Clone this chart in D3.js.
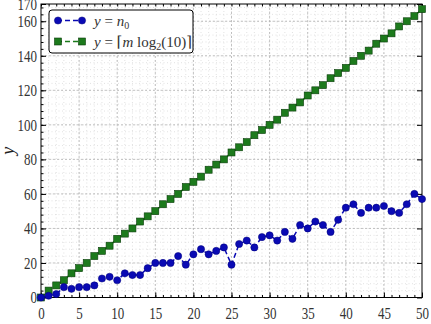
<!DOCTYPE html>
<html>
<head>
<meta charset="utf-8">
<title>n0 vs ceil(m log2 10)</title>
<script src="https://d3js.org/d3.v7.min.js"></script>
<style>
  body { margin: 0; background: #fff; }
  svg { display: block; font-family: "Liberation Serif", "DejaVu Serif", serif; }
</style>
</head>
<body>
<svg id="chart" width="431" height="324"></svg>
<script>
// m values 0..50
const mValues = d3.range(0, 51);
// y = n0
const n0 = [0, 1, 2, 6, 5, 6, 6, 7, 11, 12, 10, 14, 13, 13, 17, 20, 20, 20, 24, 19,
            25, 28, 25, 27, 29, 19, 31, 33, 29, 35, 36, 33, 38, 34, 42, 40, 44, 42, 38, 45,
            52, 54, 49, 52, 52, 53, 50, 49, 54, 60, 57];
// y = ceil(m log2(10))
const ceilBits = [0, 4, 7, 10, 14, 17, 20, 24, 27, 30, 34, 37, 40, 44, 47, 50, 54, 57, 60, 64,
                  67, 70, 74, 77, 80, 84, 87, 90, 94, 97, 100, 103, 107, 110, 113, 117, 120, 123, 127, 130,
                  133, 137, 140, 143, 147, 150, 153, 157, 160, 163, 167];
const xTicks = [0, 5, 10, 15, 20, 25, 30, 35, 40, 45, 50];
const yTicks = [0, 20, 40, 60, 80, 100, 120, 140, 160, 170];

const serif = "'Liberation Serif', 'DejaVu Serif', serif";
const svg = d3.select("#chart");
const pL = 41, pR = 422, pT = 4, pB = 297.5;

const x = d3.scaleLinear().domain([0, 50]).range([pL, pR]);
const y = d3.scaleLinear().domain([0, 170]).range([pB, pT]);

const blue = "#0a0ab4", green = "#1c7a1c";

// minor grid
const grid = svg.append("g");
grid.selectAll(".vx").data(d3.range(1, 50)).enter().append("line")
  .attr("x1", d => x(d)).attr("x2", d => x(d))
  .attr("y1", pT).attr("y2", pB)
  .attr("stroke", "#d6d6d6").attr("stroke-width", 0.7).attr("stroke-dasharray", "1,2.5");
grid.selectAll(".hy").data(d3.range(4, 170, 4)).enter().append("line")
  .attr("x1", pL).attr("x2", pR)
  .attr("y1", d => y(d)).attr("y2", d => y(d))
  .attr("stroke", "#d6d6d6").attr("stroke-width", 0.7).attr("stroke-dasharray", "1,2.5");
// major grid
grid.selectAll(".mx").data(xTicks.slice(1, -1)).enter().append("line")
  .attr("x1", d => x(d)).attr("x2", d => x(d))
  .attr("y1", pT).attr("y2", pB)
  .attr("stroke", "#b4b4b4").attr("stroke-width", 0.8).attr("stroke-dasharray", "2,2");
grid.selectAll(".my").data(yTicks.slice(1, -1)).enter().append("line")
  .attr("x1", pL).attr("x2", pR)
  .attr("y1", d => y(d)).attr("y2", d => y(d))
  .attr("stroke", "#b4b4b4").attr("stroke-width", 0.8).attr("stroke-dasharray", "2,2");

// axes with inward ticks
const xAxis = svg.append("g").attr("transform", `translate(0,${pB})`)
  .call(d3.axisBottom(x).tickValues(xTicks).tickSize(-5).tickPadding(10));
const yAxis = svg.append("g").attr("transform", `translate(${pL},0)`)
  .call(d3.axisLeft(y).tickValues(yTicks).tickSize(-5).tickPadding(4));
[xAxis, yAxis].forEach(a => {
  a.attr("font-family", serif).attr("font-size", 16.5);
  a.select(".domain").remove();
  a.selectAll(".tick line").attr("stroke", "#000");
  // narrow, tall digits as in the reference
  a.selectAll(".tick text").attr("fill", "#333")
    .attr("textLength", d => String(d).length * 6.5)
    .attr("lengthAdjust", "spacingAndGlyphs");
});
// minor ticks
svg.append("g").attr("transform", `translate(0,${pB})`)
  .call(d3.axisBottom(x).tickValues(d3.range(0, 51)).tickSize(-2.5).tickFormat(""))
  .select(".domain").remove();
svg.append("g").attr("transform", `translate(0,${pT})`)
  .call(d3.axisTop(x).tickValues(d3.range(0, 51)).tickSize(-2.5).tickFormat(""))
  .select(".domain").remove();
svg.append("g").attr("transform", `translate(${pL},0)`)
  .call(d3.axisLeft(y).tickValues(d3.range(0, 171, 4)).tickSize(-2.5).tickFormat(""))
  .select(".domain").remove();
svg.append("g").attr("transform", `translate(${pR},0)`)
  .call(d3.axisRight(y).tickValues(yTicks).tickSize(-5).tickFormat(""))
  .select(".domain").remove();

// frame
svg.append("rect").attr("x", pL).attr("y", pT)
  .attr("width", pR - pL).attr("height", pB - pT)
  .attr("fill", "none").attr("stroke", "#000").attr("stroke-width", 1);

// y label
svg.append("text").attr("transform", `translate(14,${(pT + pB) / 2}) rotate(-90)`)
  .attr("text-anchor", "middle").attr("font-style", "italic").attr("font-size", 18)
  .attr("fill", "#222").text("y");

const line = d3.line().x((d, i) => x(mValues[i])).y(d => y(d));
const plot = svg.append("g");

plot.append("path").datum(ceilBits).attr("d", line)
  .attr("fill", "none").attr("stroke", green).attr("stroke-width", 1.5).attr("stroke-dasharray", "5,3");
plot.selectAll(".sq").data(ceilBits).enter().append("rect")
  .attr("x", (d, i) => x(mValues[i]) - 3.5).attr("y", d => y(d) - 3.5)
  .attr("width", 7).attr("height", 7)
  .attr("fill", green).attr("stroke", "#0b3d0b").attr("stroke-width", 0.6);

plot.append("path").datum(n0).attr("d", line)
  .attr("fill", "none").attr("stroke", blue).attr("stroke-width", 1.5).attr("stroke-dasharray", "5,3");
plot.selectAll(".dot").data(n0).enter().append("circle")
  .attr("cx", (d, i) => x(mValues[i])).attr("cy", d => y(d)).attr("r", 3.6)
  .attr("fill", blue).attr("stroke", "#00007a").attr("stroke-width", 0.5);

// legend
const lg = svg.append("g").attr("transform", "translate(49,10)");
lg.append("rect").attr("width", 144).attr("height", 43).attr("rx", 3)
  .attr("fill", "#fff").attr("stroke", "#000").attr("stroke-width", 1);
const items = [
  { color: blue, shape: "circle", edge: "#00007a" },
  { color: green, shape: "square", edge: "#0b3d0b" }
];
items.forEach((it, i) => {
  const cy = 10.5 + i * 21;
  lg.append("line").attr("x1", 8).attr("x2", 34).attr("y1", cy).attr("y2", cy)
    .attr("stroke", it.color).attr("stroke-width", 1.5).attr("stroke-dasharray", "5,3");
  [9, 33].forEach(cx => {
    if (it.shape === "circle") {
      lg.append("circle").attr("cx", cx).attr("cy", cy).attr("r", 3.6)
        .attr("fill", it.color).attr("stroke", it.edge).attr("stroke-width", 0.5);
    } else {
      lg.append("rect").attr("x", cx - 3.5).attr("y", cy - 3.5).attr("width", 7).attr("height", 7)
        .attr("fill", it.color).attr("stroke", it.edge).attr("stroke-width", 0.6);
    }
  });
});
const t1 = lg.append("text").attr("x", 45).attr("y", 15.5).attr("font-size", 15).attr("fill", "#333");
t1.append("tspan").attr("font-style", "italic").text("y");
t1.append("tspan").text(" = ");
t1.append("tspan").attr("font-style", "italic").text("n");
t1.append("tspan").attr("font-size", 10).attr("dy", 3).text("0");
const t2 = lg.append("text").attr("x", 45).attr("y", 36.5).attr("font-size", 15).attr("fill", "#333");
t2.append("tspan").attr("font-style", "italic").text("y");
t2.append("tspan").text(" = \u2308");
t2.append("tspan").attr("font-style", "italic").text("m");
t2.append("tspan").text(" log");
t2.append("tspan").attr("font-size", 10).attr("dy", 3).text("2");
t2.append("tspan").attr("dy", -3).text("(10)\u2309");
</script>
</body>
</html>
